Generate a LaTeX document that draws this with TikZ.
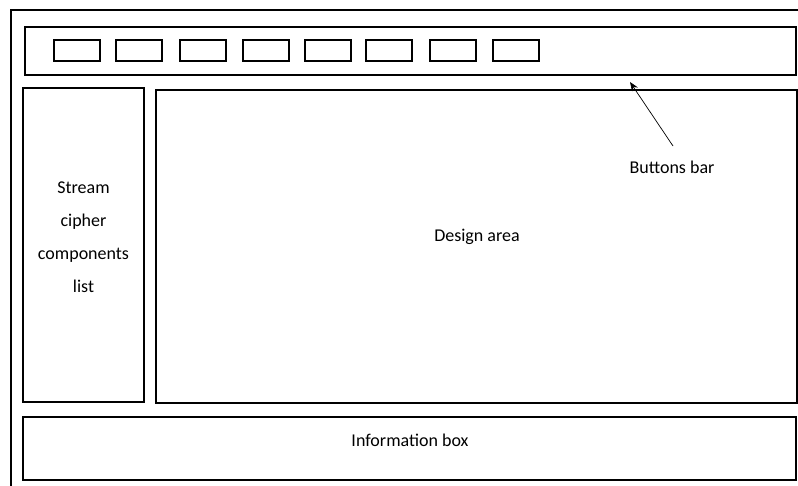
\documentclass[tikz,border=0pt]{standalone}
\usepackage{fontspec}
\setmainfont{Carlito}
\usetikzlibrary{arrows.meta}
\begin{document}
\begin{tikzpicture}[x=1pt,y=-1pt,
  panel/.style={draw=black,line width=1.4pt,minimum width=#1,inner sep=0pt},
  btn/.style={draw=black,line width=1.3pt,minimum width=46pt,minimum height=21pt,inner sep=0pt},
  lbl/.style={font=\fontsize{18}{33}\selectfont,align=center,inner sep=0pt}]
\useasboundingbox (0,0) rectangle (798,486);
\draw[line width=1.4pt] (11,486) -- (11,10) -- (800,10);
\node[panel=771pt,minimum height=48pt] (bar) at (410.5,51) {};
\foreach \i/\x in {1/77,2/139,3/203,4/266,5/328,6/389,7/453,8/516}
  \node[btn] (b\i) at (\x,50.5) {};
\node[panel=121pt,minimum height=314pt] (list) at (83.5,245) {};
\node[panel=641pt,minimum height=313pt] (design) at (476.5,246.5) {};
\node[panel=773pt,minimum height=63pt] (info) at (409.5,448.5) {};
\node[lbl] (listtxt) at (83.5,237) {Stream\\cipher\\components\\list};
\node[lbl] (designtxt) at (477,237) {Design area};
\node[lbl] (infotxt) at (410,440) {Information box};
\node[lbl] (bartxt) at (672,167) {Buttons bar};
\coordinate (tail) at (673,146);
\coordinate (tip) at (630,82);
\draw[line width=0.7pt,-{Stealth[length=9pt,width=7pt]}] (tail) -- (tip);
\end{tikzpicture}
\end{document}
